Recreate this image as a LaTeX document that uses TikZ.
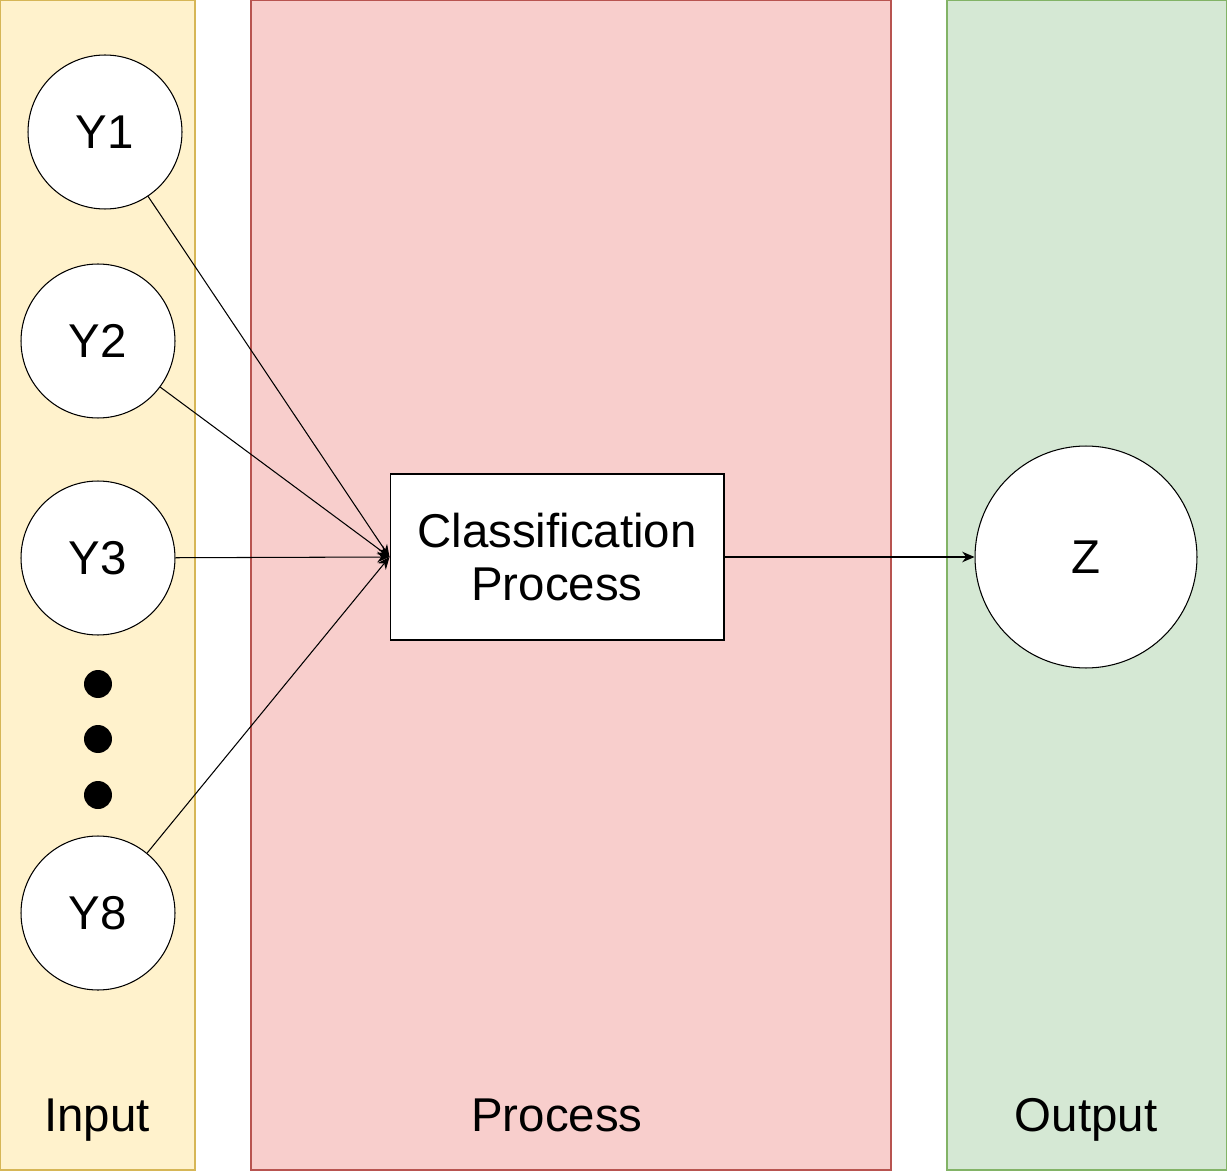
\documentclass[tikz,border=0pt]{standalone}
\usepackage{fontspec}
\setmainfont{Liberation Sans}
\usetikzlibrary{arrows.meta,positioning}

\definecolor{inFill}{HTML}{FFF2CC}
\definecolor{inLine}{HTML}{D6B656}
\definecolor{procFill}{HTML}{F8CECC}
\definecolor{procLine}{HTML}{B85450}
\definecolor{outFill}{HTML}{D5E8D4}
\definecolor{outLine}{HTML}{82B366}

\tikzset{
	band/.style={line width=0.6pt},
	bandlabel/.style={anchor=base,font=\fontsize{27}{32}\selectfont},
	varnode/.style={circle,draw,fill=white,line width=0.6pt,minimum size=3.08cm,inner sep=0pt,font=\fontsize{27}{32}\selectfont},
	procbox/.style={rectangle,draw,fill=white,line width=0.6pt,minimum width=6.68cm,minimum height=3.32cm,align=center,font=\fontsize{27}{30}\selectfont},
	flow/.style={line width=0.6pt,-{Stealth[length=7pt,width=6pt]}}
}

\begin{document}
\begin{tikzpicture}[x=0.02cm,y=-0.02cm]
				\useasboundingbox (0,0) rectangle (1227,1172);

				\draw[band,fill=inFill,draw=inLine] (0.5,0.5) rectangle (195,1170);
				\draw[band,fill=procFill,draw=procLine] (251,0.5) rectangle (891,1170);
				\draw[band,fill=outFill,draw=outLine] (947,0.5) rectangle (1226.5,1170);

				\node[bandlabel] (lin) at (97,1131) {Input};
				\node[bandlabel] (lproc) at (557,1131) {Process};
				\node[bandlabel] (lout) at (1086,1131) {Output};

				\foreach \x/\y/\t in {105/132/1,98/341/2,98/558/3,98/913/8}
				{
					\node[varnode] (y\t) at (\x,\y) {Y\t};
				}

				\foreach \y/\d in {684/1,739/2,795/3}
				{
					\node[circle,fill=black,minimum size=0.56cm,inner sep=0pt] (dot\d) at (98,\y) {};
				}

				\node[procbox] (cls) at (557,557) {Classification\\Process};

				\node[varnode,minimum size=4.44cm] (z) at (1086,557) {Z};

				\foreach \t in {1,2,3,8}
				{
					\draw[flow] (y\t) -- (cls.west);
				}

				\draw[flow] (cls) -- (z);
			\end{tikzpicture}
\end{document}
